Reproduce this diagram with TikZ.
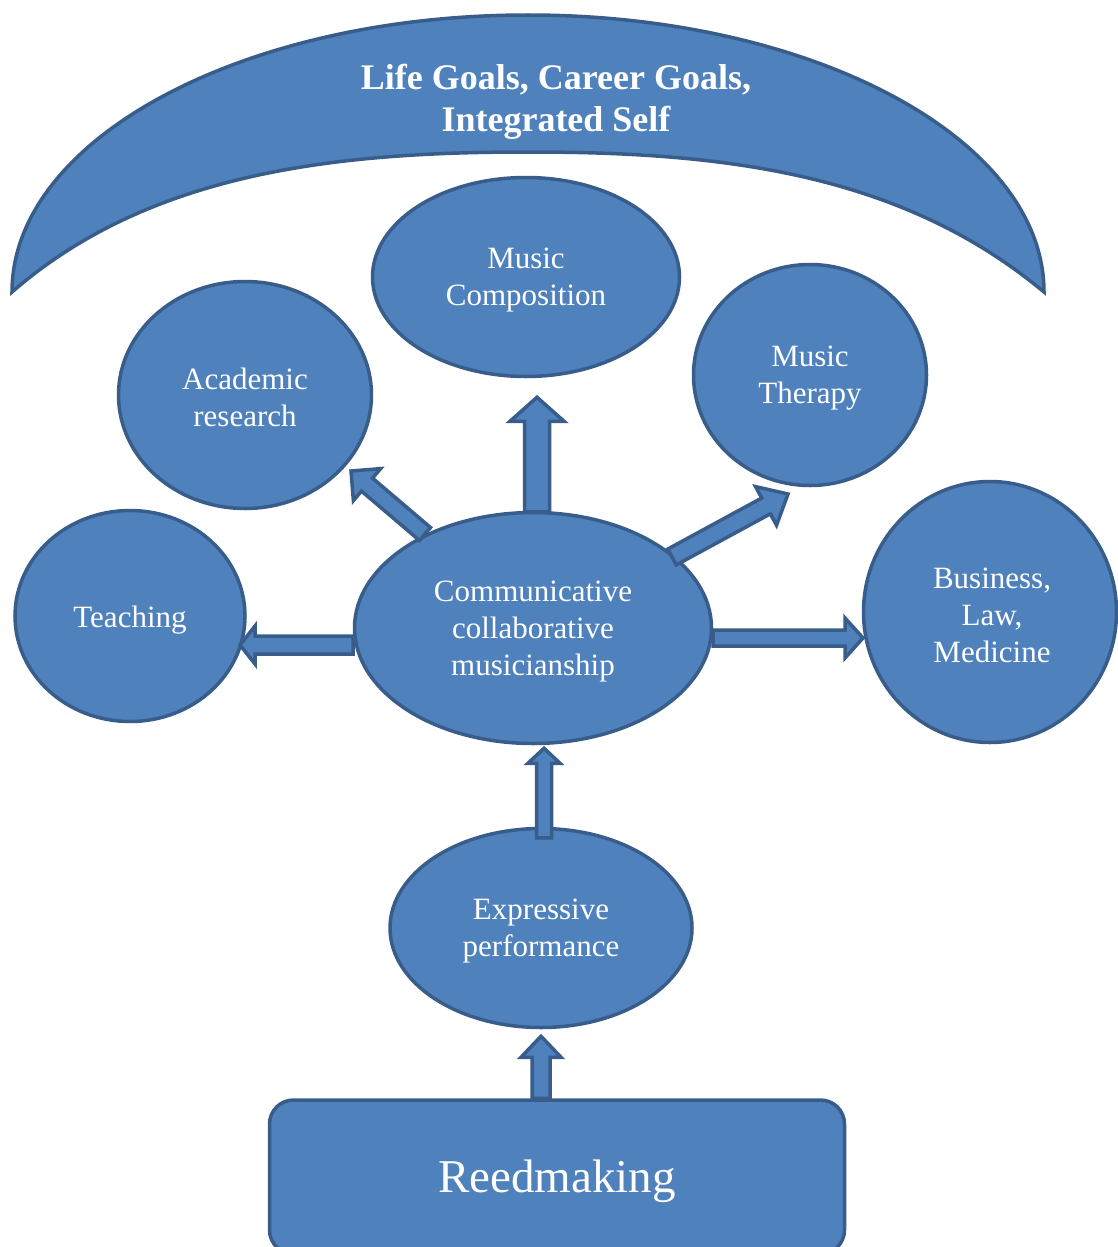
\documentclass[tikz,border=0pt]{standalone}
\usepackage{fontspec}
\setmainfont{Liberation Serif}
\usetikzlibrary{shapes.geometric,calc}
\definecolor{fillc}{HTML}{4F81BD}
\definecolor{edgec}{HTML}{385D8A}
\tikzset{
  bubble/.style={ellipse, fill=fillc, draw=edgec, line width=3.5pt, inner sep=0pt},
  txt/.style={text=white, align=center, inner sep=0pt, font=\fontsize{31}{37}\selectfont},
  barrow/.style={fill=fillc, draw=edgec, line width=3.5pt, line join=miter},
  band/.style={fill=fillc, draw=edgec, line width=3.5pt}
}
% #1 start, #2 tip, #3 shaft half width, #4 head half width, #5 head length
\newcommand\blockarrow[5]{%
  \coordinate (bh) at ($(#2)!#5pt!(#1)$);
  \draw[barrow] ($(#1)!#3pt!90:(#2)$) -- ($(bh)!#3pt!90:(#2)$) -- ($(bh)!#4pt!90:(#2)$) -- (#2)
    -- ($(bh)!#4pt!-90:(#2)$) -- ($(bh)!#3pt!-90:(#2)$) -- ($(#1)!#3pt!-90:(#2)$) -- cycle;}
\begin{document}
\begin{tikzpicture}[x=1pt,y=1pt]
\useasboundingbox (0,0) rectangle (1118,-1247);
\clip (0,0) rectangle (1118,-1247);
% band
\draw[band] (12,-292) arc[start angle=180, end angle=0, x radius=516, y radius=277]
  .. controls (900,-172) and (720,-152) .. (528,-152)
  .. controls (336,-152) and (150,-172) .. (12,-292) -- cycle;
\node[text=white, align=center, inner sep=0pt, font=\bfseries\fontsize{36}{42}\selectfont] (title) at (556,-102) {Life Goals, Career Goals,\\Integrated Self};
% bubbles
\node[bubble, minimum width=307, minimum height=199] (comp) at (526,-277) {};
\node[bubble, minimum width=253, minimum height=227] (acad) at (245,-395) {};
\node[bubble, minimum width=233, minimum height=221] (ther) at (810,-375) {};
\node[bubble, minimum width=230, minimum height=211] (teach) at (130,-616) {};
\node[bubble, minimum width=357, minimum height=231] (comm) at (533,-628) {};
\node[bubble, minimum width=253, minimum height=261] (bus) at (990,-612) {};
\node[bubble, minimum width=302, minimum height=199] (expr) at (541,-928) {};
\node[txt] (compt) at ($(comp)+(0,-3)$) {Music\\Composition};
\node[txt] (acadt) at ($(acad)+(0,-2)$) {Academic\\research};
\node[txt] (thert) at ($(ther)+(0,-3)$) {Music\\Therapy};
\node[txt] (teacht) at ($(teach)+(0,-4)$) {Teaching};
\node[txt] (commt) at ($(comm)+(0,-4)$) {Communicative\\collaborative\\musicianship};
\node[txt] (bust) at ($(bus)+(2,-3)$) {Business,\\Law,\\Medicine};
\node[txt] (exprt) at ($(expr)+(0,-3)$) {Expressive\\performance};
\node[rectangle, rounded corners=24pt, fill=fillc, draw=edgec, line width=3.5pt, text=white,
  minimum width=575, minimum height=154, font=\fontsize{47}{50}\selectfont] (reed) at (557,-1177) {};
\node[text=white, inner sep=0pt, font=\fontsize{47}{50}\selectfont] (reedt) at ($(reed)+(0,-4)$) {Reedmaking};
% arrows
\blockarrow{$(comm.north)+(4,-1)$}{$(comp.south)+(11,-19)$}{12.5}{27}{24}
\blockarrow{$(comm.center)+(-108,94)$}{$(acad.center)+(106,-76)$}{8.5}{21}{21}
\blockarrow{$(comm.center)+(139,71)$}{$(ther.center)+(-22,-119)$}{9}{22}{25}
\blockarrow{$(comm.center)+(-180,-17)$}{$(teach.center)+(110,-29)$}{9}{19}{15}
\blockarrow{$(comm.center)+(180,-10)$}{$(bus.center)+(-127,-26)$}{8}{20}{18}
\blockarrow{$(expr.north)+(3,-11)$}{$(comm.south)+(11,-3)$}{7.5}{16}{15}
\blockarrow{$(reed.north)+(-16,0)$}{$(expr.south)+(0,-7)$}{9}{20}{21}
\end{tikzpicture}
\end{document}
